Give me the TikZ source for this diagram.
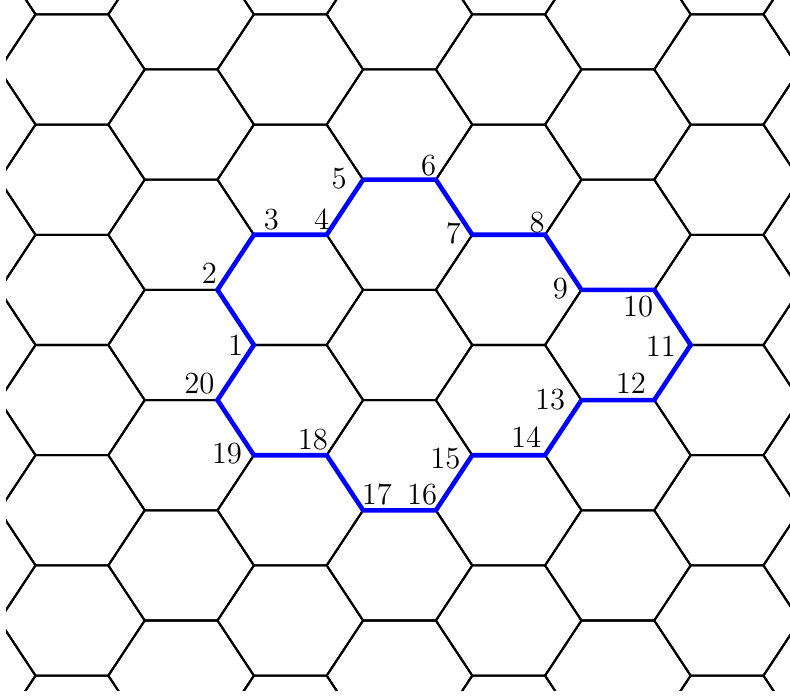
\documentclass[tikz,border=0pt]{standalone}
\usepackage{tikz}
\usetikzlibrary{calc}

\begin{document}
\begin{tikzpicture}[x=1cm, y=0.757cm,
    hexline/.style={draw=black, thick},
    loopline/.style={draw=blue, line width=1.8pt},
    num/.style={font=\large, inner sep=0pt}
]
\useasboundingbox (-0.488,-6.407) rectangle (10.365,6.261);

% honeycomb
\begin{scope}
\clip (-0.405,-6.261) rectangle (10.365,6.261);
\foreach \m in {-3,...,5}{
  \foreach \n in {-4,...,4}{
    \pgfmathsetmacro\cx{3.5+1.5*\m}
    \pgfmathsetmacro\cy{1+mod(\m,2)+2*\n}
    \draw[hexline, shift={(\cx,\cy)}] (-1,0) -- (-0.5,1) -- (0.5,1) -- (1,0) -- (0.5,-1) -- (-0.5,-1) -- cycle;
  }
}
\end{scope}

% closed loop
\coordinate (p1) at (3,0);
\coordinate (p2) at (2.5,1);
\coordinate (p3) at (3,2);
\coordinate (p4) at (4,2);
\coordinate (p5) at (4.5,3);
\coordinate (p6) at (5.5,3);
\coordinate (p7) at (6,2);
\coordinate (p8) at (7,2);
\coordinate (p9) at (7.5,1);
\coordinate (p10) at (8.5,1);
\coordinate (p11) at (9,0);
\coordinate (p12) at (8.5,-1);
\coordinate (p13) at (7.5,-1);
\coordinate (p14) at (7,-2);
\coordinate (p15) at (6,-2);
\coordinate (p16) at (5.5,-3);
\coordinate (p17) at (4.5,-3);
\coordinate (p18) at (4,-2);
\coordinate (p19) at (3,-2);
\coordinate (p20) at (2.5,-1);

\draw[loopline] (p1) -- (p2) -- (p3) -- (p4) -- (p5) -- (p6) -- (p7) -- (p8) -- (p9) -- (p10)
  -- (p11) -- (p12) -- (p13) -- (p14) -- (p15) -- (p16) -- (p17) -- (p18) -- (p19) -- (p20) -- cycle;

% vertex numbers
\node[num] (n1) at (2.75,-0.01) {1};
\node[num] (n2) at (2.39,1.31) {2};
\node[num] (n3) at (3.24,2.27) {3};
\node[num] (n4) at (3.93,2.29) {4};
\node[num] (n5) at (4.17,3.01) {5};
\node[num] (n6) at (5.40,3.25) {6};
\node[num] (n7) at (5.74,2.02) {7};
\node[num] (n8) at (6.89,2.22) {8};
\node[num] (n9) at (7.21,1.03) {9};
\node[num] (n10) at (8.28,0.70) {10};
\node[num] (n11) at (8.59,-0.03) {11};
\node[num] (n12) at (8.18,-0.70) {12};
\node[num] (n13) at (7.07,-1.00) {13};
\node[num] (n14) at (6.74,-1.68) {14};
\node[num] (n15) at (5.63,-2.06) {15};
\node[num] (n16) at (5.31,-2.71) {16};
\node[num] (n17) at (4.69,-2.71) {17};
\node[num] (n18) at (3.81,-1.72) {18};
\node[num] (n19) at (2.63,-1.97) {19};
\node[num] (n20) at (2.25,-0.70) {20};
\end{tikzpicture}
\end{document}
